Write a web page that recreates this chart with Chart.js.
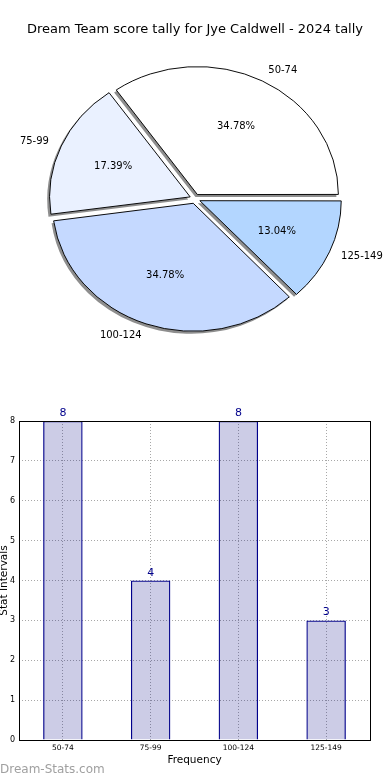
<!DOCTYPE html>
<html>
<head>
<meta charset="utf-8">
<script src="https://cdn.jsdelivr.net/npm/chart.js@4.4.0/dist/chart.umd.min.js"></script>
<style>
  html, body { margin: 0; padding: 0; background: #fff; }
  #wrap { position: relative; width: 390px; height: 780px; }
  .box { position: absolute; left: 0; width: 390px; height: 390px; }
</style>
</head>
<body>
<div id="wrap">
  <div class="box" style="top:0"><canvas id="pieChart" width="390" height="390"></canvas></div>
  <div class="box" style="top:390px"><canvas id="barChart" width="390" height="390"></canvas></div>
</div>
<script>
var categories = ['50-74', '75-99', '100-124', '125-149'];
var counts = [8, 4, 8, 3];
var sliceColors = ['#ffffff', '#eaf1ff', '#c5d9ff', '#b3d6ff'];
var yTicks = [0, 1, 2, 3, 4, 5, 6, 7, 8];
var chartTitle = 'Dream Team score tally for Jye Caldwell - 2024 tally';

var FONT = "'DejaVu Sans', sans-serif";
var squash = 128 / 141;   // pie is drawn as an ellipse
var explode = 21;         // chart.js arc offset (px * 4)

// chart.js goes clockwise, the original goes counter-clockwise from 3 o'clock
var pieLabels = categories.slice().reverse();
var pieValues = counts.slice().reverse();
var pieColors = sliceColors.slice().reverse();
var total = counts.reduce(function (a, b) { return a + b; }, 0);

function squashAround(ctx, y) {
  ctx.translate(0, y);
  ctx.scale(1, squash);
  ctx.translate(0, -y);
}

var pieExtras = {
  id: 'pieExtras',
  beforeDatasetsDraw: function (chart) {
    var arcs = chart.getDatasetMeta(0).data;
    var ctx = chart.ctx;
    // drop shadow: grey copy of each wedge, shifted left and down
    ctx.save();
    ctx.translate(-2, 2.5);
    squashAround(ctx, arcs[0].y);
    ctx.fillStyle = '#8e8e8e';
    ctx.filter = 'blur(0.6px)';
    arcs.forEach(function (arc) {
      var mid = (arc.startAngle + arc.endAngle) / 2;
      var off = explode / 4;
      var x = arc.x + Math.cos(mid) * off, y = arc.y + Math.sin(mid) * off;
      ctx.beginPath();
      ctx.moveTo(x, y);
      ctx.arc(x, y, arc.outerRadius + 1, arc.startAngle, arc.endAngle);
      ctx.closePath();
      ctx.fill();
    });
    ctx.restore();
    ctx.save();
    squashAround(ctx, arcs[0].y);
  },
  afterDatasetsDraw: function (chart) {
    var ctx = chart.ctx;
    ctx.restore();
    ctx.save();
    ctx.font = '10px ' + FONT;
    ctx.fillStyle = '#000';
    ctx.textBaseline = 'middle';
    chart.getDatasetMeta(0).data.forEach(function (arc, i) {
      var mid = (arc.startAngle + arc.endAngle) / 2;
      var c = Math.cos(mid), s = Math.sin(mid);
      var off = explode / 4;
      var cx = arc.x + c * off;
      var cy = arc.y + s * off * squash;
      var rx = arc.outerRadius, ry = arc.outerRadius * squash;
      ctx.textAlign = c > 0 ? 'left' : 'right';
      ctx.fillText(pieLabels[i], cx + 1.1 * rx * c, cy + 1.1 * ry * s);
      ctx.textAlign = 'center';
      var pct = (pieValues[i] / total * 100).toFixed(2) + '%';
      ctx.fillText(pct, cx + 0.6 * rx * c, cy + 0.6 * ry * s);
    });
    ctx.restore();
  }
};

new Chart(document.getElementById('pieChart').getContext('2d'), {
  type: 'pie',
  data: {
    labels: pieLabels,
    datasets: [{
      data: pieValues,
      backgroundColor: pieColors,
      borderColor: '#000',
      borderWidth: 1,
      offset: explode
    }]
  },
  options: {
    responsive: false,
    animation: false,
    events: [],
    rotation: 90,
    radius: 140,
    layout: { padding: { top: 0, bottom: 30, left: 0, right: 0 } },
    plugins: {
      legend: { display: false },
      tooltip: { enabled: false },
      title: {
        display: true,
        text: chartTitle,
        color: '#000',
        font: { family: FONT, size: 13, weight: 'normal' },
        padding: { top: 22, bottom: 0 }
      }
    }
  },
  plugins: [pieExtras]
});

var barExtras = {
  id: 'barExtras',
  afterDatasetsDraw: function (chart) {
    var ctx = chart.ctx;
    var a = chart.chartArea;
    ctx.save();
    // frame round the plot
    ctx.strokeStyle = '#000';
    ctx.lineWidth = 1;
    ctx.strokeRect(Math.round(a.left) + 0.5, Math.round(a.top) + 0.5,
                   Math.round(a.right - a.left), Math.round(a.bottom - a.top));
    // values above the bars
    ctx.fillStyle = '#00008b';
    ctx.font = '11px ' + FONT;
    ctx.textAlign = 'center';
    ctx.textBaseline = 'alphabetic';
    chart.getDatasetMeta(0).data.forEach(function (bar, i) {
      ctx.fillText(String(counts[i]), bar.x, bar.y - 5);
    });
    // axis titles
    ctx.fillStyle = '#000';
    ctx.font = '10.5px ' + FONT;
    ctx.textBaseline = 'middle';
    ctx.fillText('Frequency', (a.left + a.right) / 2, 370);
    ctx.save();
    ctx.translate(4, (a.top + a.bottom) / 2);
    ctx.rotate(-Math.PI / 2);
    ctx.fillText('Stat Intervals', 0, 0);
    ctx.restore();
    // watermark
    ctx.fillStyle = '#a0a0a0';
    ctx.font = '12px ' + FONT;
    ctx.textAlign = 'left';
    ctx.fillText('Dream-Stats.com', 0, 380);
    ctx.restore();
  }
};

var dotted = { color: '#a8a8a8', lineWidth: 1, drawTicks: false };

new Chart(document.getElementById('barChart').getContext('2d'), {
  type: 'bar',
  data: {
    labels: categories,
    datasets: [{
      data: counts,
      backgroundColor: 'rgba(0,0,128,0.2)',
      borderColor: '#00008b',
      borderWidth: 1.3,
      categoryPercentage: 1,
      barPercentage: 0.45
    }]
  },
  options: {
    responsive: false,
    animation: false,
    events: [],
    layout: { padding: { top: 31, right: 20, left: 0, bottom: 0 } },
    plugins: { legend: { display: false }, tooltip: { enabled: false } },
    scales: {
      x: {
        grid: Object.assign({ offset: false }, dotted),
        border: { display: false, dash: [1, 2] },
        ticks: { color: '#000', font: { family: FONT, size: 7.5 }, padding: 4 },
        afterFit: function (s) { s.height = 40; }
      },
      y: {
        min: 0,
        max: yTicks[yTicks.length - 1],
        afterBuildTicks: function (s) { s.ticks = yTicks.map(function (v) { return { value: v }; }); },
        grid: dotted,
        border: { display: false, dash: [1, 2] },
        ticks: { color: '#000', font: { family: FONT, size: 8 }, padding: 4 },
        afterFit: function (s) { s.width = 19; }
      }
    }
  },
  plugins: [barExtras]
});
</script>
</body>
</html>
